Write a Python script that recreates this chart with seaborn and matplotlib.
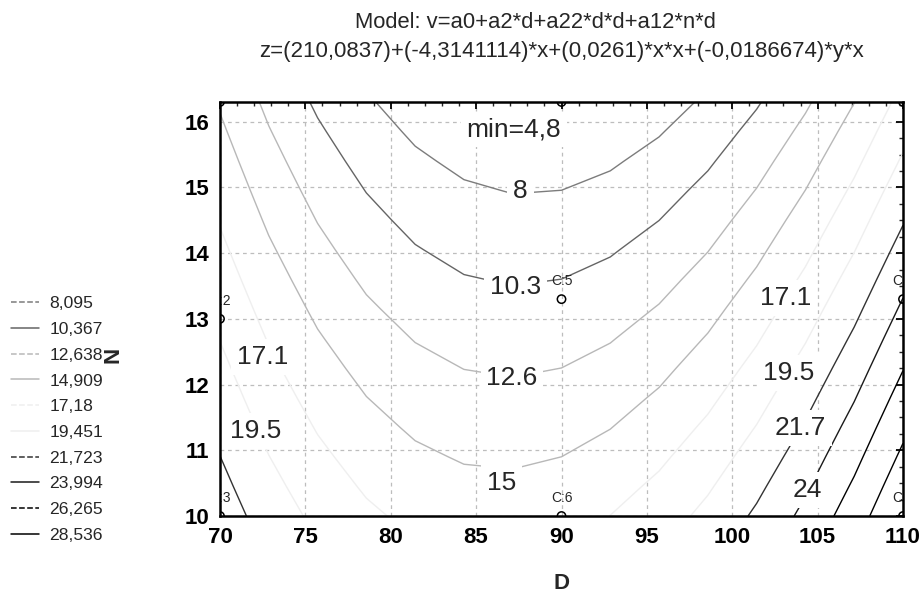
import numpy as np
import matplotlib
matplotlib.use("Agg")
import matplotlib.pyplot as plt
import seaborn as sns
import pandas as pd
from matplotlib.lines import Line2D
from matplotlib.ticker import MultipleLocator

# ---- model coefficients (as printed in the title) ----
a0 = 210.0837
a2 = -4.3141114
a22 = 0.0261
a12 = -0.0186674

d_limits = [70, 110]
n_limits = [10, 16.3]
grid_points = 15

# ---- contour levels and styles ----
levels = [8.095, 10.367, 12.638, 14.909, 17.18, 19.451, 21.723, 23.994, 26.265, 28.536]
level_labels = ["8,095", "10,367", "12,638", "14,909", "17,18", "19,451",
                "21,723", "23,994", "26,265", "28,536"]
line_colors = ["#7c7c7c", "#656565", "#b8b8b8", "#b8b8b8", "#efefef", "#efefef",
               "#333333", "#1a1a1a", "#000000", "#000000"]
legend_styles = ["--", "-", "--", "-", "--", "-", "--", "-", "--", "-"]

# ---- design points ----
pts_d = [70, 70, 70, 90, 90, 90, 110, 110, 110]
pts_n = [16.3, 13.0, 10.0, 16.3, 13.3, 10.0, 16.3, 13.3, 10.0]
pts_lab = ["C:1", "C:2", "C:3", "C:4", "C:5", "C:6", "C:7", "C:8", "C:9"]

# ---- contour label annotations ----
clabel_text = ["min=4,8", "8", "10.3", "12.6", "15", "17.1", "19.5", "17.1", "19.5", "21.7", "24"]
clabel_d = [87.2, 87.6, 87.3, 87.1, 86.5, 72.5, 72.1, 103.1, 103.3, 104.0, 104.4]
clabel_n = [15.88, 14.95, 13.49, 12.10, 10.50, 12.42, 11.29, 13.32, 12.18, 11.34, 10.40]

x_ticks = [70, 75, 80, 85, 90, 95, 100, 105, 110]
y_ticks = [10, 11, 12, 13, 14, 15, 16]

title1 = "Model: v=a0+a2*d+a22*d*d+a12*n*d"
title2 = "z=(210,0837)+(-4,3141114)*x+(0,0261)*x*x+(-0,0186674)*y*x"

sns.set_style("white")
plt.rcParams["font.family"] = ["Liberation Sans", "DejaVu Sans"]

fig = plt.figure(figsize=(9.23, 5.94), dpi=100)
ax = fig.add_axes([220 / 923, 78 / 594, 683 / 923, 414 / 594])

d = np.linspace(d_limits[0], d_limits[1], grid_points)
n = np.linspace(n_limits[0], n_limits[1], grid_points)
D, N = np.meshgrid(d, n)
Z = a0 + a2 * D + a22 * D * D + a12 * N * D

ax.contour(D, N, Z, levels=levels, colors=line_colors, linewidths=1.0,
           linestyles="solid", zorder=3)

ax.set_xlim(*d_limits)
ax.set_ylim(*n_limits)
ax.set_xticks(x_ticks)
ax.set_yticks(y_ticks)
ax.xaxis.set_minor_locator(MultipleLocator(1))
ax.yaxis.set_minor_locator(MultipleLocator(0.25))
ax.grid(True, which="major", color="#bdbdbd", linestyle=(0, (3, 3)), linewidth=0.9, zorder=1)
ax.set_axisbelow(True)
ax.tick_params(which="major", direction="in", top=True, right=True, length=5, width=1.3,
               labelsize=16, pad=8, colors="black")
ax.tick_params(which="minor", direction="in", top=True, right=True, length=3, width=1.0)
for lab in ax.get_xticklabels() + ax.get_yticklabels():
    lab.set_fontweight("bold")
for sp in ax.spines.values():
    sp.set_linewidth(1.8)
    sp.set_color("black")
    sp.set_zorder(6)

# design points
pts = pd.DataFrame({"D": pts_d, "N": pts_n})
sns.scatterplot(data=pts, x="D", y="N", ax=ax, marker="o", s=36,
                facecolor="none", edgecolor="black", linewidth=1.1, zorder=5, legend=False)
for x, y, t in zip(pts_d, pts_n, pts_lab):
    ax.annotate(t, (x, y), xytext=(0, 13), textcoords="offset points", ha="center",
                va="center", fontsize=10, annotation_clip=False, clip_on=True, zorder=5)

# contour labels with white background
for t, x, y in zip(clabel_text, clabel_d, clabel_n):
    txt = ax.text(x, y, t, ha="center", va="center", fontsize=19, zorder=4,
                  bbox=dict(boxstyle="square,pad=0.22", facecolor="white", edgecolor="none"))
    txt.set_clip_on(True)

ax.set_xlabel("D", fontsize=16, fontweight="bold", labelpad=18)
ax.set_ylabel("")
fig.text(113 / 923, 1 - 355 / 594, "N", rotation=90, fontsize=16, fontweight="bold",
         ha="center", va="center")

fig.text(535 / 923, 1 - 22 / 594, title1, fontsize=15.8, ha="center", va="center")
fig.text(562 / 923, 1 - 52 / 594, title2, fontsize=16, ha="center", va="center")

handles = [Line2D([0], [0], color=c, linestyle=ls, linewidth=1.1)
           for c, ls in zip(line_colors, legend_styles)]
fig.legend(handles, level_labels, loc="center left", bbox_to_anchor=(0.002, 1 - 419.5 / 594),
           frameon=False, fontsize=12.6, handlelength=1.6, handletextpad=0.62,
           labelspacing=0.6, borderpad=0.2, borderaxespad=0.3)

fig.savefig("out.png", dpi=100)
